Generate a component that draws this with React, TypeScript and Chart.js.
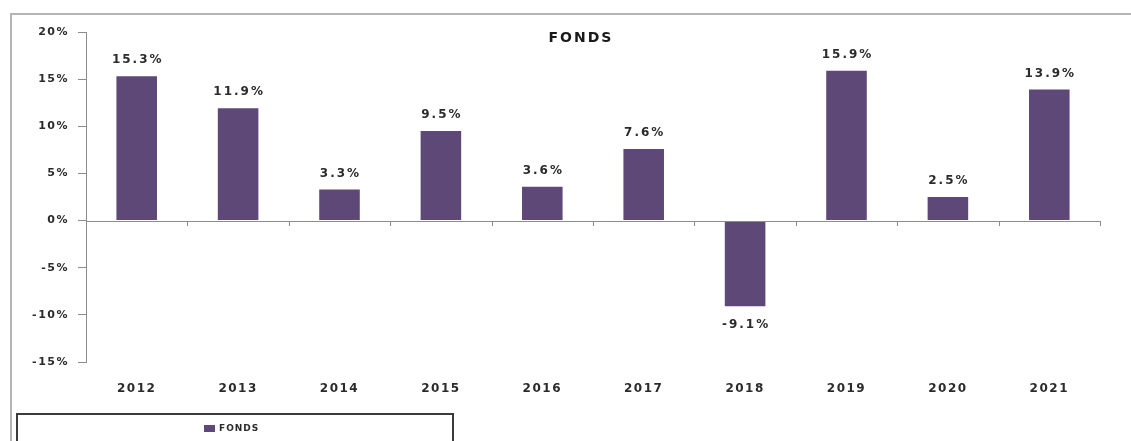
import React, { useEffect, useRef } from "react";
import { Chart, registerables } from "chart.js";

Chart.register(...registerables);

const categories = ["2012", "2013", "2014", "2015", "2016", "2017", "2018", "2019", "2020", "2021"];
const fondsValues = [15.3, 11.9, 3.3, 9.5, 3.6, 7.6, -9.1, 15.9, 2.5, 13.9];
const seriesLabel = "FONDS";
const chartTitle = "FONDS";
const yMin = -15;
const yMax = 20;
const yStep = 5;

const BAR_COLOR = "#5d4878";
const TEXT_COLOR = "#2b2b2b";
const AXIS_COLOR = "#8c8c8c";
const FONT = "'DejaVu Sans', Verdana, sans-serif";

const decorPlugin = {
  id: "decor",
  beforeDraw(chart: any) {
    const ctx = chart.ctx;
    ctx.save();
    ctx.fillStyle = "#ffffff";
    ctx.fillRect(0, 0, chart.width, chart.height);
    ctx.strokeStyle = "#b4b4b4";
    ctx.lineWidth = 2;
    ctx.strokeRect(11, 14, chart.width + 50, chart.height + 50);
    ctx.restore();
    (ctx as any).letterSpacing = "1.5px";
  },
  afterDraw(chart: any) {
    const ctx = chart.ctx;
    const area = chart.chartArea;
    const xScale = chart.scales.x;
    const yScale = chart.scales.y;
    const zeroY = yScale.getPixelForValue(0);
    ctx.save();
    // zero line
    ctx.strokeStyle = AXIS_COLOR;
    ctx.lineWidth = 1;
    ctx.beginPath();
    ctx.moveTo(area.left, Math.round(zeroY) + 0.5);
    ctx.lineTo(area.right, Math.round(zeroY) + 0.5);
    ctx.stroke();
    // category boundary ticks on the zero line
    const n = categories.length;
    const bounds: number[] = [area.left];
    for (let i = 1; i < n; i++) {
      bounds.push((xScale.getPixelForValue(i - 1) + xScale.getPixelForValue(i)) / 2);
    }
    bounds.push(area.right);
    ctx.beginPath();
    bounds.forEach((bx) => {
      const px = Math.round(bx) + 0.5;
      ctx.moveTo(px, Math.round(zeroY));
      ctx.lineTo(px, Math.round(zeroY) + 5);
    });
    ctx.stroke();

    // data labels
    (ctx as any).letterSpacing = "2px";
    ctx.font = `bold 12px ${FONT}`;
    ctx.fillStyle = TEXT_COLOR;
    ctx.textAlign = "center";
    ctx.textBaseline = "middle";
    const meta = chart.getDatasetMeta(0);
    meta.data.forEach((bar: any, i: number) => {
      const v = fondsValues[i];
      const y = v >= 0 ? bar.y - 16 : bar.y + 19;
      ctx.fillText(`${v.toFixed(1)}%`, bar.x + 1, y);
    });

    // title
    (ctx as any).letterSpacing = "2px";
    ctx.font = `bold 14px ${FONT}`;
    ctx.fillStyle = "#1a1a1a";
    ctx.fillText(chartTitle, (area.left + area.right) / 2 - 12, area.top + 6);

    // legend box
    (ctx as any).letterSpacing = "1px";
    ctx.strokeStyle = "#3c3c3c";
    ctx.lineWidth = 2;
    ctx.strokeRect(17, 414, 436, 60);
    ctx.fillStyle = BAR_COLOR;
    ctx.fillRect(204, 425, 11, 7);
    ctx.font = `bold 9px ${FONT}`;
    ctx.fillStyle = TEXT_COLOR;
    ctx.textAlign = "left";
    ctx.fillText(seriesLabel, 219, 429);
    ctx.restore();
  },
};

export default function App() {
  const ref = useRef<HTMLCanvasElement | null>(null);
  useEffect(() => {
    if (!ref.current) return;
    const chart = new Chart(ref.current, {
      type: "bar",
      data: {
        labels: categories,
        datasets: [
          {
            label: seriesLabel,
            data: fondsValues,
            backgroundColor: BAR_COLOR,
            borderWidth: 0,
            categoryPercentage: 1,
            barPercentage: 0.4,
          },
        ],
      },
      options: {
        responsive: false,
        animation: false,
        devicePixelRatio: 1,
        layout: { padding: { left: 0, right: 31, top: 32, bottom: 0 } },
        plugins: {
          legend: { display: false },
          title: { display: false },
          tooltip: { enabled: false },
        },
        scales: {
          x: {
            grid: { display: false },
            border: { display: false },
            ticks: {
              color: TEXT_COLOR,
              font: { family: FONT, size: 12, weight: "bold" },
              padding: 12,
              maxRotation: 0,
            },
            afterFit: (s: any) => {
              s.height = 79;
            },
          },
          y: {
            min: yMin,
            max: yMax,
            ticks: {
              stepSize: yStep,
              color: TEXT_COLOR,
              font: { family: FONT, size: 11, weight: "bold" },
              padding: 9,
              callback: (v: any) => `${v}%`,
            },
            grid: {
              drawOnChartArea: false,
              drawTicks: true,
              tickLength: 8,
              color: AXIS_COLOR,
            },
            border: { display: true, color: AXIS_COLOR, width: 1 },
            afterFit: (s: any) => {
              s.width = 86;
            },
          },
        },
      },
      plugins: [decorPlugin],
    });
    return () => chart.destroy();
  }, []);
  return (
    <div style={{ position: "fixed", left: 0, top: 0, width: 1131, height: 441, overflow: "hidden", background: "#fff" }}>
      <canvas ref={ref} width={1131} height={441} style={{ display: "block" }} />
    </div>
  );
}
